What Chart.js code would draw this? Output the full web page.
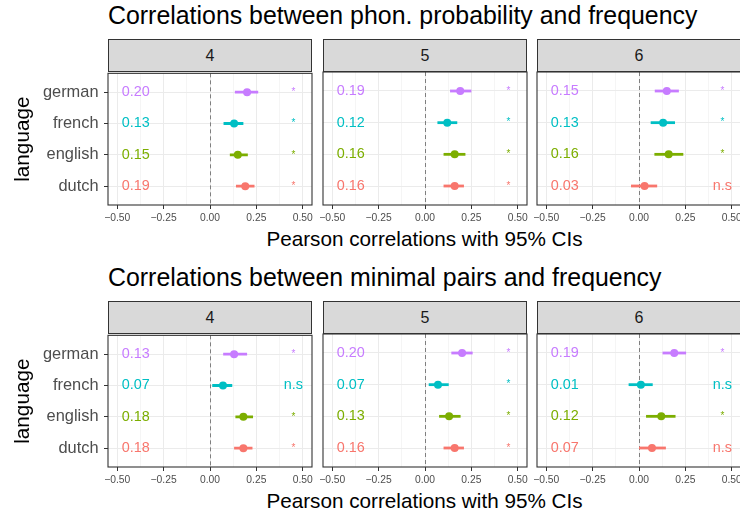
<!DOCTYPE html>
<html>
<head>
<meta charset="utf-8">
<script src="https://cdn.jsdelivr.net/npm/chart.js@4"></script>
<style>
  body { margin: 0; width: 740px; height: 516px; overflow: hidden; background: #fff; position: relative;
         font-family: 'Liberation Sans', Arial, sans-serif; }
  canvas, .strip, .title, .xtitle { position: absolute; }
  .title { left: 108px; font-size: 24.9px; line-height: 1; color: #000; white-space: nowrap; }
  .xtitle { left: 108px; width: 633px; font-size: 20.7px; line-height: 1; color: #000; text-align: center; white-space: nowrap; }
  .strip { box-sizing: border-box; width: 204px; height: 33px; background: #D9D9D9; border: 1px solid #333;
           font-size: 16px; color: #1A1A1A; text-align: center; line-height: 31px; }
</style>
</head>
<body>
<script>
const languages = ["dutch", "english", "french", "german"]
const colours = ["#F8766D", "#7CAE00", "#00BFC4", "#C77CFF"]
const windowSizes = ["4", "5", "6"]

// phon. probability vs frequency (order: dutch, english, french, german)
const phonR4 = [0.19, 0.15, 0.13, 0.20]
const phonLo4 = [0.140, 0.107, 0.073, 0.134]
const phonHi4 = [0.240, 0.204, 0.180, 0.260]
const phonSig4 = ["*", "*", "*", "*"]

const phonR5 = [0.16, 0.16, 0.12, 0.19]
const phonLo5 = [0.100, 0.100, 0.067, 0.135]
const phonHi5 = [0.210, 0.218, 0.174, 0.250]
const phonSig5 = ["*", "*", "*", "*"]

const phonR6 = [0.03, 0.16, 0.13, 0.15]
const phonLo6 = [-0.043, 0.083, 0.063, 0.085]
const phonHi6 = [0.098, 0.239, 0.194, 0.215]
const phonSig6 = ["n.s", "*", "*", "*"]

// minimal pairs vs frequency
const minR4 = [0.18, 0.18, 0.07, 0.13]
const minLo4 = [0.130, 0.137, 0.012, 0.071]
const minHi4 = [0.229, 0.232, 0.120, 0.200]
const minSig4 = ["*", "*", "n.s", "*"]

const minR5 = [0.16, 0.13, 0.07, 0.20]
const minLo5 = [0.100, 0.076, 0.020, 0.142]
const minHi5 = [0.210, 0.192, 0.128, 0.257]
const minSig5 = ["*", "*", "*", "*"]

const minR6 = [0.07, 0.12, 0.01, 0.19]
const minLo6 = [0.000, 0.038, -0.056, 0.127]
const minHi6 = [0.145, 0.197, 0.074, 0.254]
const minSig6 = ["n.s", "*", "n.s", "*"]

const FONT = "'Liberation Sans', Arial, sans-serif"
Chart.defaults.font.family = FONT

const panelLefts = [108, 323, 537]
const PANEL_W = 204, PANEL_H = 133, PAD_TOP = 14

const isMajor = v => Math.abs(v * 4 - Math.round(v * 4)) < 1e-9

/**
 * Plugin: dashed zero line, value / significance labels and panel border
 */
const makeDecor = (r, sig) => ({
    id: "decor",
    beforeDatasetsDraw(chart) {
        const {ctx, chartArea: a, scales: {x}} = chart
        const px = Math.round(x.getPixelForValue(0)) + 0.5
        ctx.save()
        ctx.strokeStyle = "#7F7F7F"
        ctx.lineWidth = 1
        ctx.setLineDash([4, 3])
        ctx.beginPath()
        ctx.moveTo(px, a.top)
        ctx.lineTo(px, a.bottom)
        ctx.stroke()
        ctx.restore()
    },
    afterDatasetsDraw(chart) {
        const {ctx, chartArea: a, scales: {x, y}} = chart
        ctx.save()
        ctx.textAlign = "center"
        ctx.textBaseline = "middle"
        r.forEach((v, i) => {
            const py = y.getPixelForValue(i + 1)
            ctx.fillStyle = colours[i]
            ctx.font = "14.4px " + FONT
            ctx.fillText(v.toFixed(2), x.getPixelForValue(-0.4), py)
            ctx.font = (sig[i] === "*" ? "10px " : "14.4px ") + FONT
            ctx.fillText(sig[i], x.getPixelForValue(0.45), py)
        })
        ctx.strokeStyle = "#333333"
        ctx.lineWidth = 1.1
        ctx.strokeRect(a.left, a.top, a.right - a.left, a.bottom - a.top)
        ctx.restore()
    }
})

const addDiv = (cls, text, left, top) => {
    const d = document.createElement("div")
    d.className = cls
    d.textContent = text
    if (left !== null) d.style.left = left + "px"
    d.style.top = top + "px"
    document.body.appendChild(d)
}

const plotFacet = (col, panelTop, r, lo, hi, sig) => {
    const first = col === 0
    const left = panelLefts[col]
    const canvas = document.createElement("canvas")
    const cLeft = first ? 0 : left - 15
    const w = first ? left + PANEL_W + 15 : PANEL_W + 30
    const h = PAD_TOP + PANEL_H + 22
    canvas.width = w
    canvas.height = h
    canvas.style.left = cLeft + "px"
    canvas.style.top = (panelTop - PAD_TOP) + "px"
    canvas.style.width = w + "px"
    canvas.style.height = h + "px"
    document.body.appendChild(canvas)

    const datasets = [{
        data: r.map((v, i) => ({x: v, y: i + 1})),
        pointBackgroundColor: colours,
        pointBorderWidth: 0,
        pointRadius: 4,
        order: 0
    }]
    languages.forEach((lang, i) => {
        datasets.push({
            data: [{x: lo[i], y: i + 1}, {x: hi[i], y: i + 1}],
            showLine: true,
            borderColor: colours[i],
            borderWidth: 2.8,
            pointRadius: 0,
            order: 1
        })
    })

    new Chart(canvas, {
        type: "scatter",
        data: {datasets},
        options: {
            responsive: false,
            animation: false,
            layout: {padding: {left: first ? 0 : 15, right: 15, top: PAD_TOP, bottom: 0}},
            plugins: {legend: {display: false}, tooltip: {enabled: false}},
            scales: {
                x: {
                    type: "linear", min: -0.55, max: 0.55,
                    border: {display: false},
                    grid: {
                        color: "#EBEBEB",
                        lineWidth: c => isMajor(c.tick.value) ? 1 : 0.5,
                        tickLength: 4,
                        tickWidth: 1,
                        tickColor: c => isMajor(c.tick.value) ? "#333333" : "rgba(0,0,0,0)"
                    },
                    ticks: {
                        stepSize: 0.125, includeBounds: false, autoSkip: false, maxRotation: 0,
                        padding: 3,
                        color: "#4D4D4D",
                        font: {size: 10.3},
                        callback: v => isMajor(v) ? (v < 0 ? "\u2212" : "") + Math.abs(v).toFixed(2) : ""
                    },
                    afterFit: s => { s.height = 22 }
                },
                y: {
                    type: "linear", min: 0.4, max: 4.6,
                    border: {display: false},
                    grid: {color: "#EBEBEB", lineWidth: 1, drawTicks: first, tickLength: 4, tickWidth: 1, tickColor: "#333333"},
                    ticks: {
                        display: first, stepSize: 1, includeBounds: false,
                        padding: 5.5, color: "#4D4D4D", font: {size: 16.4},
                        callback: v => languages[v - 1]
                    },
                    title: {display: first, text: "language", color: "#000", font: {size: 20.7}, padding: {top: 11, bottom: 0}},
                    afterFit: s => { s.width = first ? left : 0 }
                }
            }
        },
        plugins: [makeDecor(r, sig)]
    })
}

const plotRow = (top, title, rs, los, his, sigs) => {
    addDiv("title", title, null, top + 3.4)
    windowSizes.forEach((ws, col) => {
        addDiv("strip", ws, panelLefts[col], top + 39)
        plotFacet(col, top + 72, rs[col], los[col], his[col], sigs[col])
    })
    addDiv("xtitle", "Pearson correlations with 95% CIs", null, top + 229.2)
}

plotRow(0, "Correlations between phon. probability and frequency",
    [phonR4, phonR5, phonR6], [phonLo4, phonLo5, phonLo6], [phonHi4, phonHi5, phonHi6], [phonSig4, phonSig5, phonSig6])
plotRow(262, "Correlations between minimal pairs and frequency",
    [minR4, minR5, minR6], [minLo4, minLo5, minLo6], [minHi4, minHi5, minHi6], [minSig4, minSig5, minSig6])
</script>
</body>
</html>
